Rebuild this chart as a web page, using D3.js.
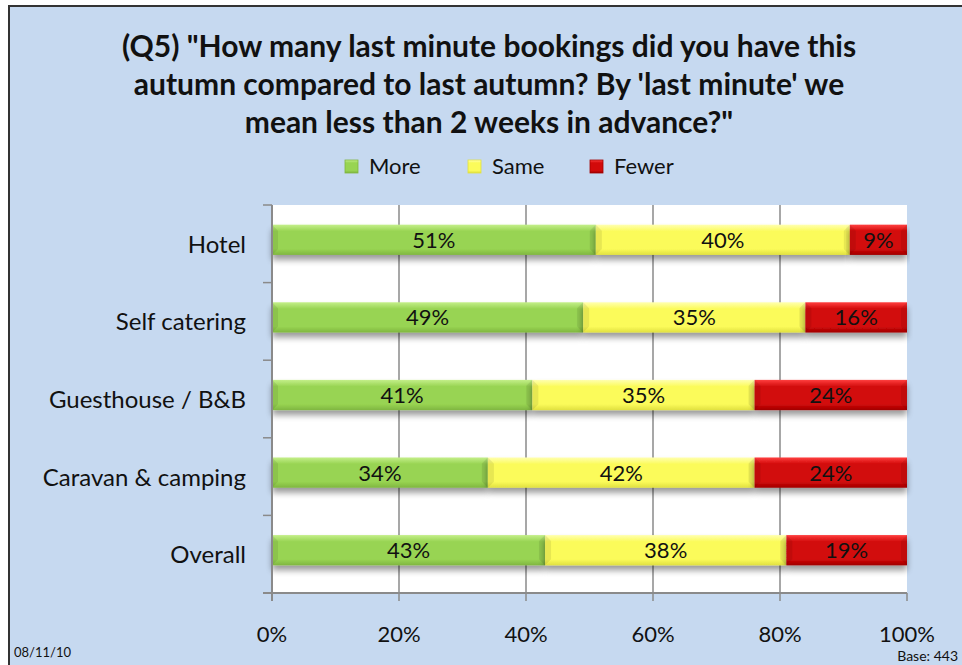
<!DOCTYPE html>
<html lang="en">
<head>
  <meta charset="UTF-8" />
  <title>Last minute bookings</title>
  <script src="https://d3js.org/d3.v7.min.js"></script>
  <style>
    body { margin: 0; background: #fff; }
    svg { display: block; }
    text { font-family: Lato, "Open Sans", sans-serif; }
  </style>
</head>
<body>
  <svg width="962" height="665"></svg>

  <script>
    // data
    const categories = ["Hotel", "Self catering", "Guesthouse / B&B", "Caravan & camping", "Overall"];
    const seriesNames = ["More", "Same", "Fewer"];
    const more  = [51, 49, 41, 34, 43];
    const same  = [40, 35, 35, 42, 38];
    const fewer = [9, 16, 24, 24, 19];
    const xTicks = [0, 20, 40, 60, 80, 100];
    const titleLines = [
      "(Q5) \"How many last minute bookings did you have this",
      "autumn compared to last autumn? By 'last minute' we",
      "mean less than 2 weeks in advance?\""
    ];

    const colours = {
      More:  ["#c4ef8a", "#98d452", "#7fb640"],
      Same:  ["#ffffb0", "#fbfb5a", "#e0e040"],
      Fewer: ["#ff4040", "#d20a0a", "#a00000"]
    };

    const svg = d3.select("svg");
    const defs = svg.append("defs");

    Object.entries(colours).forEach(([k, c]) => {
      const g = defs.append("linearGradient")
        .attr("id", "grad-" + k).attr("x1", 0).attr("y1", 0).attr("x2", 0).attr("y2", 1);
      g.append("stop").attr("offset", "0%").attr("stop-color", c[0]);
      g.append("stop").attr("offset", "22%").attr("stop-color", c[1]);
      g.append("stop").attr("offset", "80%").attr("stop-color", c[1]);
      g.append("stop").attr("offset", "100%").attr("stop-color", c[2]);
    });

    const shadow = defs.append("filter").attr("id", "shadow")
      .attr("x", "-5%").attr("y", "-50%").attr("width", "110%").attr("height", "250%");
    shadow.append("feGaussianBlur").attr("in", "SourceAlpha").attr("stdDeviation", 3);
    shadow.append("feOffset").attr("dy", 5).attr("result", "b");
    shadow.append("feComponentTransfer").append("feFuncA").attr("type", "linear").attr("slope", 0.4);
    const merge = shadow.append("feMerge");
    merge.append("feMergeNode");
    merge.append("feMergeNode").attr("in", "SourceGraphic");

    // background panel
    svg.append("rect")
      .attr("x", 9).attr("y", 6).attr("width", 960).attr("height", 670)
      .attr("fill", "#c6d9f0").attr("stroke", "#333").attr("stroke-width", 2);

    const margin = { left: 272, right: 907, top: 205, bottom: 593 };

    const x = d3.scaleLinear().domain([0, 100]).range([margin.left, margin.right]);
    const y = d3.scaleBand().domain(categories).range([margin.top, margin.bottom])
      .paddingInner(0.61).paddingOuter(0.305);

    // plot area
    svg.append("rect")
      .attr("x", margin.left).attr("y", margin.top)
      .attr("width", margin.right - margin.left).attr("height", margin.bottom - margin.top)
      .attr("fill", "#fff");

    // gridlines
    svg.append("g").selectAll("line")
      .data(xTicks.filter(t => t > 0 && t < 100))
      .join("line")
      .attr("x1", d => x(d)).attr("x2", d => x(d))
      .attr("y1", margin.top).attr("y2", margin.bottom)
      .attr("stroke", "#8a8a8a").attr("stroke-width", 1.5);

    // title
    svg.append("text")
      .attr("x", 489).attr("y", 57)
      .attr("text-anchor", "middle")
      .attr("font-size", 30).attr("font-weight", "bold").attr("fill", "#111")
      .selectAll("tspan").data(titleLines).join("tspan")
      .attr("x", 489).attr("dy", (d, i) => i ? 38 : 0)
      .text(d => d);

    // legend
    const legendX = [345, 468, 590];
    const lg = svg.append("g").selectAll("g").data(seriesNames).join("g")
      .attr("transform", (d, i) => `translate(${legendX[i]},160)`);
    lg.append("rect").attr("width", 13).attr("height", 13)
      .attr("fill", d => `url(#grad-${d})`)
      .attr("stroke", d => colours[d][2]).attr("stroke-width", 0.8);
    lg.append("text").attr("x", 24).attr("y", 14)
      .attr("font-size", 22).attr("fill", "#111").text(d => d);

    // stacked bars
    const table = categories.map((c, i) => ({ cat: c, More: more[i], Same: same[i], Fewer: fewer[i] }));
    const stacked = d3.stack().keys(seriesNames)(table);
    const barShift = -4;

    const rows = svg.append("g");
    stacked.forEach(layer => {
      const g = rows.append("g");
      g.selectAll("rect").data(layer).join("rect")
        .attr("x", d => x(d[0]))
        .attr("y", d => y(d.data.cat) + barShift)
        .attr("width", d => x(d[1]) - x(d[0]))
        .attr("height", y.bandwidth())
        .attr("fill", `url(#grad-${layer.key})`)
        .attr("filter", "url(#shadow)");
      // bevel edges
      g.selectAll("path").data(layer).join("path")
        .attr("d", d => {
          const x0 = x(d[0]), x1 = x(d[1]), t = y(d.data.cat) + barShift, b = t + y.bandwidth();
          return `M${x0},${t}L${x0 + 6},${t + 6}L${x0 + 6},${b - 6}L${x0},${b}Z` +
                 `M${x1},${t}L${x1 - 6},${t + 6}L${x1 - 6},${b - 6}L${x1},${b}Z`;
        })
        .attr("fill", "#000").attr("opacity", 0.08);
      g.selectAll("text").data(layer).join("text")
        .attr("x", d => (x(d[0]) + x(d[1])) / 2)
        .attr("y", d => y(d.data.cat) + barShift + y.bandwidth() / 2 + 8)
        .attr("text-anchor", "middle")
        .attr("font-size", 22).attr("fill", "#111")
        .text(d => (d[1] - d[0]) + "%");
    });

    // y axis
    const boundaries = d3.range(categories.length + 1).map(i => margin.top + i * y.step());
    svg.append("line")
      .attr("x1", margin.left).attr("x2", margin.left)
      .attr("y1", margin.top).attr("y2", margin.bottom + 8)
      .attr("stroke", "#8a8a8a").attr("stroke-width", 2);
    svg.append("g").selectAll("line").data(boundaries).join("line")
      .attr("x1", margin.left - 9).attr("x2", margin.left)
      .attr("y1", d => d).attr("y2", d => d)
      .attr("stroke", "#8a8a8a").attr("stroke-width", 1.5);
    svg.append("g").selectAll("text").data(categories).join("text")
      .attr("x", 246).attr("y", d => y(d) + y.bandwidth() / 2 + 9)
      .attr("text-anchor", "end").attr("font-size", 24).attr("fill", "#111")
      .text(d => d);

    // x axis
    svg.append("line")
      .attr("x1", margin.left - 9).attr("x2", margin.right)
      .attr("y1", margin.bottom).attr("y2", margin.bottom)
      .attr("stroke", "#8a8a8a").attr("stroke-width", 2);
    svg.append("g").selectAll("line").data(xTicks).join("line")
      .attr("x1", d => x(d)).attr("x2", d => x(d))
      .attr("y1", margin.bottom).attr("y2", margin.bottom + 8)
      .attr("stroke", "#8a8a8a").attr("stroke-width", 1.5);
    svg.append("g").selectAll("text").data(xTicks).join("text")
      .attr("x", d => x(d)).attr("y", 642)
      .attr("text-anchor", "middle").attr("font-size", 22).attr("fill", "#111")
      .text(d => d + "%");

    // footer
    svg.append("text").attr("x", 14).attr("y", 657)
      .attr("font-family", "'Liberation Sans Narrow', 'Liberation Sans', sans-serif")
      .attr("font-size", 13).attr("fill", "#111").text("08/11/10");
    svg.append("text").attr("x", 958).attr("y", 661).attr("text-anchor", "end")
      .attr("font-family", "'Liberation Sans Narrow', 'Liberation Sans', sans-serif")
      .attr("font-size", 14).attr("fill", "#111").text("Base: 443");
  </script>
</body>
</html>
